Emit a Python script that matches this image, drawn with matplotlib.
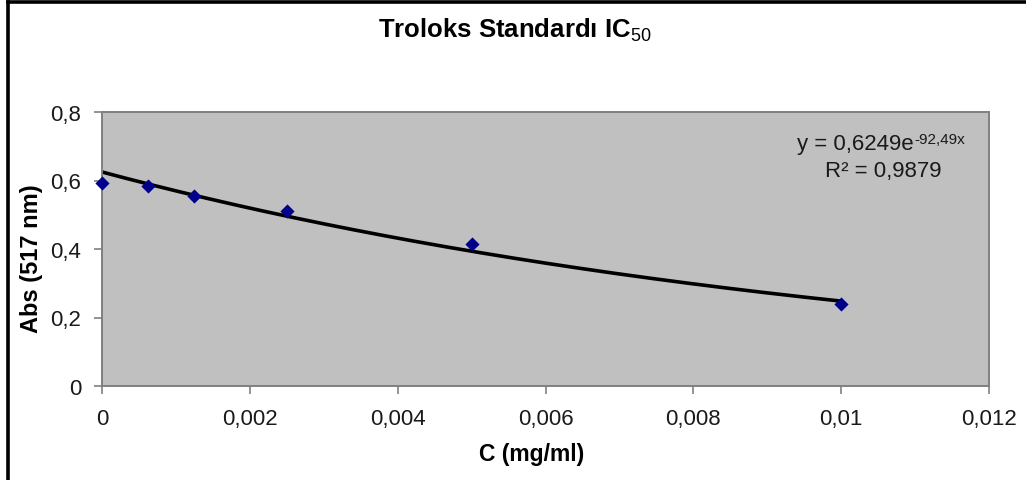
import numpy as np
import matplotlib
matplotlib.use("Agg")
import matplotlib.pyplot as plt
from matplotlib.lines import Line2D

plt.rcParams['font.family'] = ['Liberation Sans', 'DejaVu Sans']
plt.rcParams['mathtext.fontset'] = 'custom'
plt.rcParams['mathtext.rm'] = 'Liberation Sans'
plt.rcParams['mathtext.bf'] = 'Liberation Sans:bold'

# Measured absorbance of Trolox standards
conc = [0.0, 0.000625, 0.00125, 0.0025, 0.005, 0.01]
absorbance = [0.593, 0.584, 0.555, 0.511, 0.414, 0.238]

# Exponential trend line parameters
fit_a = 0.6249
fit_b = -92.49
r_squared = 0.9879

x_ticks = [0, 0.002, 0.004, 0.006, 0.008, 0.01, 0.012]
x_tick_labels = ['0', '0,002', '0,004', '0,006', '0,008', '0,01', '0,012']
y_ticks = [0, 0.2, 0.4, 0.6, 0.8]
y_tick_labels = ['0', '0,2', '0,4', '0,6', '0,8']

W, H = 1026, 481
fig = plt.figure(figsize=(W / 100, H / 100), dpi=100)
fig.patch.set_facecolor('white')

ax = fig.add_axes([102 / W, 1 - 387 / H, (989 - 102) / W, (387 - 113) / H])
ax.set_facecolor('#C0C0C0')

xs = np.linspace(0, max(conc), 200)
ax.plot(xs, fit_a * np.exp(fit_b * xs), color='black', lw=2.6, zorder=2,
        solid_capstyle='round')
ax.scatter(conc, absorbance, marker='D', s=52, color='#00008B', zorder=3,
           clip_on=False, linewidths=0)

ax.set_xlim(0, 0.012)
ax.set_ylim(0, 0.8)
ax.set_xticks(x_ticks)
ax.set_xticklabels(x_tick_labels)
ax.set_yticks(y_ticks)
ax.set_yticklabels(y_tick_labels)
ax.tick_params(axis='both', direction='out', length=6, width=1.2, color='#808080',
               labelsize=16, labelcolor='#1a1a1a')
ax.tick_params(axis='x', pad=10)
ax.tick_params(axis='y', pad=9)
for s in ax.spines.values():
    s.set_color('#808080')
    s.set_linewidth(1.4)

ax.set_xlabel('C (mg/ml)', fontsize=16.5, fontweight='bold', va='center')
ax.xaxis.set_label_coords(0.4845, (387 - 455) / 274)
ax.set_ylabel('Abs (517 nm)', fontsize=17, fontweight='bold', va='center')
ax.yaxis.set_label_coords((32 - 102) / 887, (387 - 259) / 274)

fig.text(515 / W, 1 - 30 / H, r'Troloks Standardı IC$_{\mathrm{50}}$',
         ha='center', va='center', fontsize=18.5, fontweight='bold')

eq = 'y = {}e'.format(str(fit_a).replace('.', ','))
t_eq = ax.text(797 / W, 1 - 145 / H, eq, transform=fig.transFigure, fontsize=16,
               ha='left', va='center', color='#1a1a1a')
fig.canvas.draw()
bb = t_eq.get_window_extent(renderer=fig.canvas.get_renderer())
ax.annotate('{}x'.format(str(fit_b).replace('.', ',')), xy=(bb.x1, bb.y1),
            xycoords='figure pixels', xytext=(0.5, 1), textcoords='offset points',
            fontsize=11, ha='left', va='top', color='#1a1a1a')
ax.text(883 / W, 1 - 171 / H, 'R² = {}'.format(str(r_squared).replace('.', ',')),
        transform=fig.transFigure, fontsize=16, ha='center', va='center',
        color='#1a1a1a')

# Outer frame lines (left and top)
fig.add_artist(Line2D([7.5 / W, 7.5 / W], [0, 1 - 2.5 / H], color='black',
                      lw=2.6, transform=fig.transFigure, solid_capstyle='projecting'))
fig.add_artist(Line2D([7.5 / W, 1], [1 - 2.5 / H, 1 - 2.5 / H], color='black',
                      lw=2.6, transform=fig.transFigure, solid_capstyle='projecting'))

fig.savefig('out.png', dpi=100, facecolor='white')
